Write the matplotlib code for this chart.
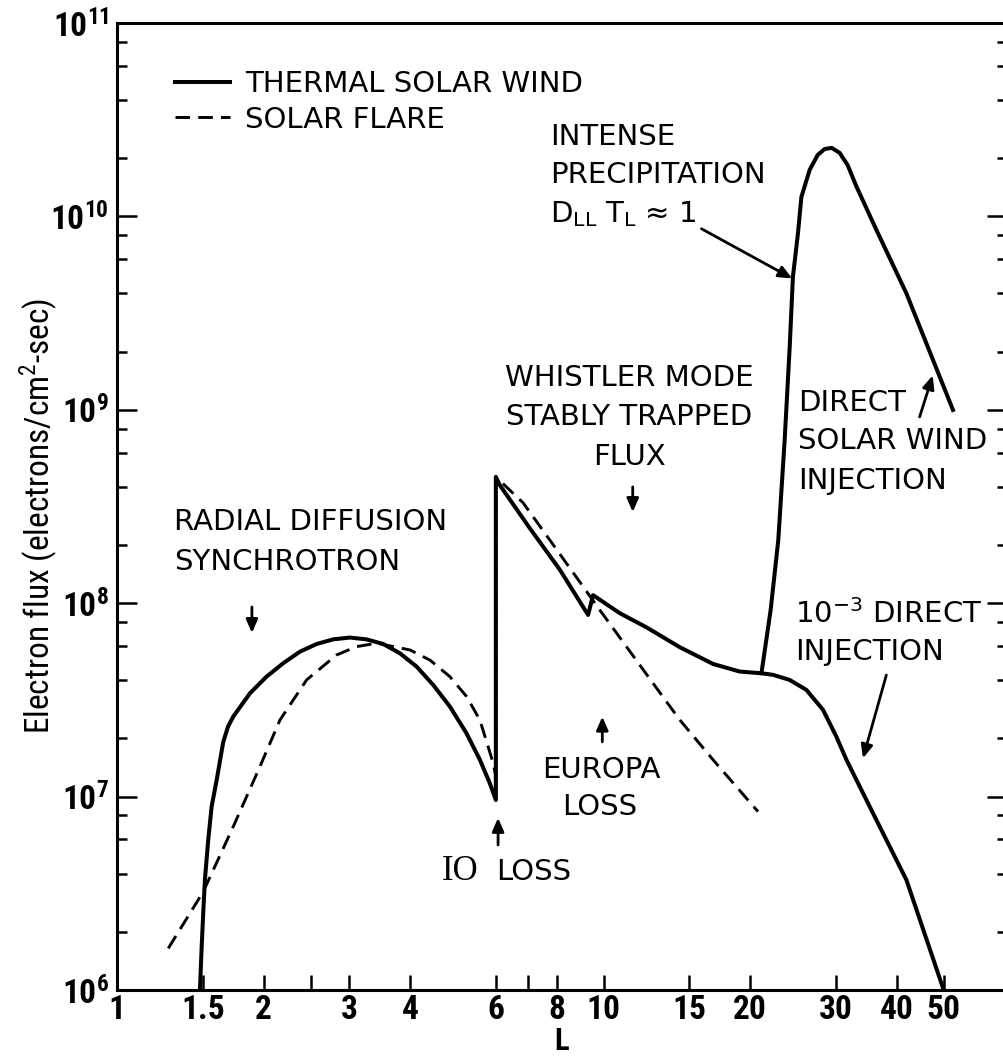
import matplotlib.pyplot as plt
from matplotlib.ticker import FixedLocator, NullLocator, LogLocator, NullFormatter

plt.rcParams["font.family"] = ["DejaVu Sans"]
narrow = ["Liberation Sans Narrow", "Roboto Condensed", "Roboto", "DejaVu Sans"]

# %% data
# thermal solar wind (runs on through the intense-precipitation branch)
thermal_L = [1.479, 1.491, 1.502, 1.514, 1.538, 1.563, 1.601, 1.651, 1.688, 1.731, 1.874,
             2.027, 2.193, 2.373, 2.569, 2.778, 3.007, 3.254, 3.521, 3.809, 4.123,
             4.460, 4.827, 5.224, 5.563, 5.832, 6.0,
             6.0, 6.113, 7.047, 8.122, 9.285, 9.506, 10.79, 12.24, 14.33, 16.77,
             19.03, 21.09,
             22.03, 22.84, 23.54, 24.10, 24.48, 25.07, 25.48, 26.50, 27.53, 28.45, 29.41,
             30.54, 31.72, 33.05, 36.34, 41.88, 52.21]
thermal_flux = [1.0e6, 1.67e6, 2.49e6, 3.71e6, 5.97e6, 8.87e6, 1.22e7, 1.91e7, 2.29e7, 2.59e7, 3.42e7,
                4.17e7, 4.89e7, 5.61e7, 6.15e7, 6.50e7, 6.64e7, 6.50e7, 6.15e7, 5.51e7, 4.70e7,
                3.78e7, 2.92e7, 2.12e7, 1.55e7, 1.17e7, 9.6e6,
                4.5e8, 4.08e8, 2.44e8, 1.49e8, 8.69e7, 1.10e8, 8.87e7, 7.50e7, 5.92e7, 4.85e7,
                4.43e7, 4.34e7,
                9.22e7, 2.12e8, 6.98e8, 2.08e9, 4.88e9, 8.18e9, 1.26e10, 1.74e10, 2.08e10, 2.23e10, 2.26e10,
                2.13e10, 1.84e10, 1.43e10, 8.51e9, 4.00e9, 9.98e8]

# 10^-3 direct injection branch
inject_L = [21.09, 22.28, 24.10, 26.09, 28.22, 30.07, 31.53, 35.76, 41.88, 49.96]
inject_flux = [4.34e7, 4.26e7, 4.01e7, 3.56e7, 2.81e7, 2.04e7, 1.55e7, 8.20e6, 3.71e6, 1.0e6]

# solar flare
flare_L = [1.273, 1.502, 1.731, 1.965, 2.160, 2.450, 2.824, 3.104, 3.412, 3.995,
           4.391, 4.827, 5.224, 5.563, 5.924, 6.0,
           6.0, 6.828, 7.746, 8.789, 9.813, 11.13, 12.63, 14.33, 16.77, 20.75]
flare_flux = [1.64e6, 3.22e6, 6.98e6, 1.43e7, 2.49e7, 4.01e7, 5.40e7, 5.96e7, 6.21e7, 5.73e7,
              5.08e7, 4.17e7, 3.29e7, 2.49e7, 1.49e7, 1.27e7,
              4.5e8, 3.30e8, 2.12e8, 1.36e8, 9.22e7, 5.96e7, 3.85e7, 2.49e7, 1.55e7, 8.36e6]

x_ticks = [1, 1.5, 2, 2.5, 3, 4, 6, 7, 8, 10, 15, 20, 30, 40, 50]
x_labels = ["1", "1.5", "2", "", "3", "4", "6", "", "8", "10", "15", "20", "30", "40", "50"]
y_exponents = [6, 7, 8, 9, 10, 11]

# %%
fig = plt.figure(figsize=(10.04, 10.59), dpi=100)
ax = fig.add_axes([0.1168, 0.0652, 0.8858, 0.9131])

ax.set_xscale("log")
ax.set_yscale("log")

l1, = ax.plot(thermal_L, thermal_flux, color="k", lw=2.9, solid_joinstyle="round")
ax.plot(inject_L, inject_flux, color="k", lw=2.9, solid_joinstyle="round")
l2, = ax.plot(flare_L, flare_flux, color="k", lw=2.1, dashes=(5, 2.8))

ax.set_xlim(1, 67.3)
ax.set_ylim(1e6, 1e11)

ax.xaxis.set_major_locator(FixedLocator(x_ticks))
ax.set_xticklabels(x_labels)
ax.xaxis.set_minor_locator(NullLocator())
ax.set_yticks([10.0 ** e for e in y_exponents],
              [r"$\mathregular{10^{%d}}$" % e for e in y_exponents])
ax.yaxis.set_minor_locator(LogLocator(base=10, subs=(2, 4, 6, 8)))
ax.yaxis.set_minor_formatter(NullFormatter())

ax.tick_params(axis="x", which="major", direction="in", length=10.8, width=1.8,
               pad=3, labelsize=24)
ax.tick_params(axis="y", which="major", direction="in", length=14.4, width=1.8,
               right=True, pad=6, labelsize=24)
ax.tick_params(axis="y", which="minor", direction="in", length=7.2, width=1.8, right=True)
plt.setp(ax.get_xticklabels() + ax.get_yticklabels(), family=narrow, fontweight="bold")

for s in ["left", "bottom", "top"]:
    ax.spines[s].set_linewidth(2.2)
ax.spines["right"].set_visible(False)

ax.set_xlabel("L", family=narrow, fontweight="bold", fontsize=22, labelpad=0)
ax.set_ylabel(r"Electron flux (electrons/cm$^{\mathregular{2}}$-sec)",
              family=narrow, fontsize=24)
ax.yaxis.set_label_coords(-0.066, 0.49)

ax.legend(handles=[l1, l2], labels=["THERMAL SOLAR WIND", "SOLAR FLARE"],
          loc="upper left", bbox_to_anchor=(0.0649, 0.951), frameon=False,
          fontsize=21, handlelength=1.9, handletextpad=0.5, labelspacing=0.25,
          borderpad=0, borderaxespad=0)

# %% annotations
fs = 21
def note(s, x, y, ha="left", **kw):
    ax.text(x, y, s, transform=ax.transAxes, ha=ha, va="center", fontsize=fs, **kw)

note("INTENSE", 0.4863, 0.8816)
note("PRECIPITATION", 0.4863, 0.8428)
note(r"D$_{\mathregular{LL}}$ T$_{\mathregular{L}}$ ≈ 1", 0.4863, 0.8025)
note("WHISTLER MODE", 0.5761, 0.6329, ha="center")
note("STABLY TRAPPED", 0.5761, 0.5926, ha="center")
note("FLUX", 0.5761, 0.5512, ha="center")
note("DIRECT", 0.7651, 0.6070)
note("SOLAR WIND", 0.7651, 0.5677)
note("INJECTION", 0.7651, 0.5264)
note("RADIAL DIFFUSION", 0.0637, 0.4840)
note("SYNCHROTRON", 0.0637, 0.4426)
note(r"10$^{\mathregular{-3}}$ DIRECT", 0.7617, 0.3888)
note("INJECTION", 0.7617, 0.3495)
note("EUROPA", 0.5442, 0.2275, ha="center")
note("LOSS", 0.5426, 0.1892, ha="center")
ax.text(0.3650, 0.1220, "IO", transform=ax.transAxes, ha="left", va="center",
        fontsize=25, family=["Liberation Serif", "DejaVu Serif"])
note("LOSS", 0.4264, 0.1220)

arrows = [
    ((0.1514, 0.3961), (0.1514, 0.3692)),
    ((0.4282, 0.1500), (0.4282, 0.1779)),
    ((0.5454, 0.2565), (0.5454, 0.2826)),
    ((0.5796, 0.5202), (0.5796, 0.4943)),
    ((0.6569, 0.7872), (0.7589, 0.7358)),
    ((0.9022, 0.5926), (0.9169, 0.6355)),
    ((0.8648, 0.3257), (0.8385, 0.2396)),
]
for tail, head in arrows:
    ax.annotate("", xy=head, xytext=tail, xycoords="axes fraction",
                textcoords="axes fraction",
                arrowprops=dict(arrowstyle="-|>,head_length=0.5,head_width=0.22",
                                lw=2, color="k", shrinkA=0, shrinkB=0,
                                mutation_scale=16))

fig.savefig("out.png", dpi=100)
